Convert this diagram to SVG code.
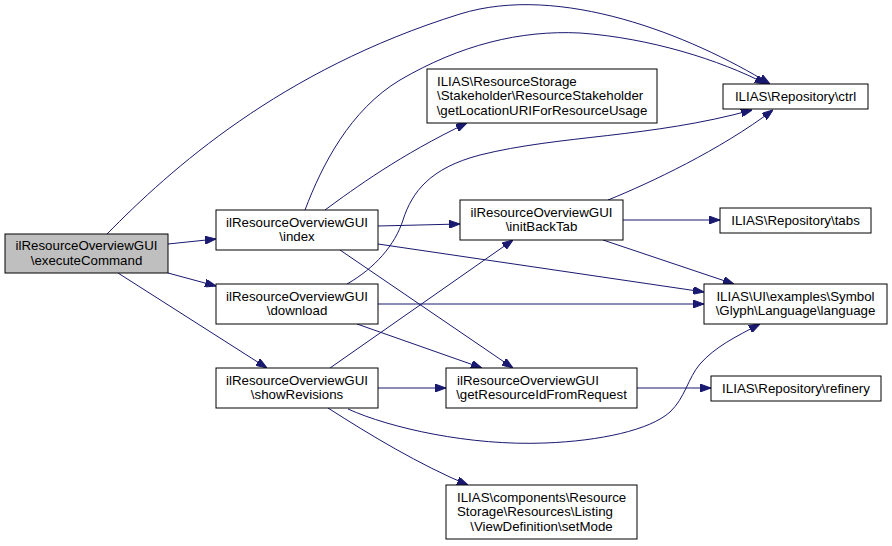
<svg xmlns="http://www.w3.org/2000/svg" width="892" height="546" viewBox="0 0 892 546">
<style>
.n rect{fill:#ffffff;stroke:#000000;stroke-width:1}
.n.root rect{fill:#bfbfbf}
text{font-family:"Liberation Sans",Arial,sans-serif;font-size:13.3px;fill:#000000}
.c{text-anchor:middle}
.l{text-anchor:start}
#edges path{fill:none;stroke:#191970;stroke-width:1;marker-end:url(#ah)}
</style>
<defs>
<marker id="ah" viewBox="0 0 11 8" refX="11" refY="4" markerWidth="11" markerHeight="8" markerUnits="userSpaceOnUse" orient="auto">
<path d="M0,0 L11,4 L0,8 z" fill="#191970" stroke="#191970"/>
</marker>
</defs>
<rect width="892" height="546" fill="#ffffff"/>
<g id="edges">
<path d="M107,234 C170,170 280,70 460,14 C560,-17 690,35 770,84"/>
<path d="M168,244 L216,239"/>
<path d="M168,273 L216,286"/>
<path d="M118,273 L267,368"/>
<path d="M305,210 C322,165 350,110 400,80 C460,45 520,30 580,33 C650,38 720,60 766,84"/>
<path d="M325,210 C355,188 400,155 467,123"/>
<path d="M378,226 L460,224"/>
<path d="M378,244 L704,292"/>
<path d="M340,250 L513,368"/>
<path d="M347,284 C375,268 395,245 403,220 C412,192 430,168 480,155 C560,135 650,138 752,110"/>
<path d="M378,304 L704,304"/>
<path d="M357,324 L482,368"/>
<path d="M330,368 L513,240"/>
<path d="M378,388 L446,388"/>
<path d="M348,409 C390,428 470,446 545,443 C600,441 650,430 670,412 C685,398 688,378 700,364 C715,347 735,337 760,324"/>
<path d="M328,408 C370,435 420,465 468,485"/>
<path d="M608,200 C650,183 720,150 773,110"/>
<path d="M623,220 L720,220"/>
<path d="M603,240 L734,284"/>
<path d="M637,388 L711,388"/>
</g>
<g id="executeCommand" class="n root">
<rect x="5" y="234" width="163" height="39"/>
<text class="c" x="86.5" y="250">ilResourceOverviewGUI</text>
<text class="c" x="86.5" y="264.5">\executeCommand</text>
</g>
<g id="index" class="n">
<rect x="216" y="210" width="162" height="40"/>
<text class="c" x="297" y="226.5">ilResourceOverviewGUI</text>
<text class="c" x="297" y="241">\index</text>
</g>
<g id="download" class="n">
<rect x="216" y="284" width="162" height="40"/>
<text class="c" x="297" y="300.5">ilResourceOverviewGUI</text>
<text class="c" x="297" y="315">\download</text>
</g>
<g id="showRevisions" class="n">
<rect x="216" y="368" width="162" height="40"/>
<text class="c" x="297" y="384.5">ilResourceOverviewGUI</text>
<text class="c" x="297" y="399">\showRevisions</text>
</g>
<g id="getLocationURIForResourceUsage" class="n">
<rect x="427" y="69" width="230" height="54"/>
<text class="l" x="437" y="85.5">ILIAS\ResourceStorage</text>
<text class="l" x="437" y="100">\Stakeholder\ResourceStakeholder</text>
<text class="c" x="542" y="114.5">\getLocationURIForResourceUsage</text>
</g>
<g id="ctrl" class="n">
<rect x="723" y="84" width="145" height="25"/>
<text class="c" x="795.5" y="101">ILIAS\Repository\ctrl</text>
</g>
<g id="initBackTab" class="n">
<rect x="460" y="200" width="163" height="40"/>
<text class="c" x="541.5" y="216.5">ilResourceOverviewGUI</text>
<text class="c" x="541.5" y="231">\initBackTab</text>
</g>
<g id="tabs" class="n">
<rect x="720" y="208" width="151" height="25"/>
<text class="c" x="795.5" y="225">ILIAS\Repository\tabs</text>
</g>
<g id="language" class="n">
<rect x="704" y="284" width="183" height="40"/>
<text class="c" x="795.5" y="300.5">ILIAS\UI\examples\Symbol</text>
<text class="c" x="795.5" y="315">\Glyph\Language\language</text>
</g>
<g id="getResourceIdFromRequest" class="n">
<rect x="446" y="368" width="191" height="40"/>
<text class="l" x="457" y="384.5">ilResourceOverviewGUI</text>
<text class="c" x="541.5" y="399">\getResourceIdFromRequest</text>
</g>
<g id="refinery" class="n">
<rect x="711" y="376" width="170" height="25"/>
<text class="c" x="796" y="393">ILIAS\Repository\refinery</text>
</g>
<g id="setMode" class="n">
<rect x="446" y="485" width="191" height="54"/>
<text class="l" x="457" y="501.5">ILIAS\components\Resource</text>
<text class="l" x="457" y="516">Storage\Resources\Listing</text>
<text class="c" x="541.5" y="530.5">\ViewDefinition\setMode</text>
</g>
</svg>
